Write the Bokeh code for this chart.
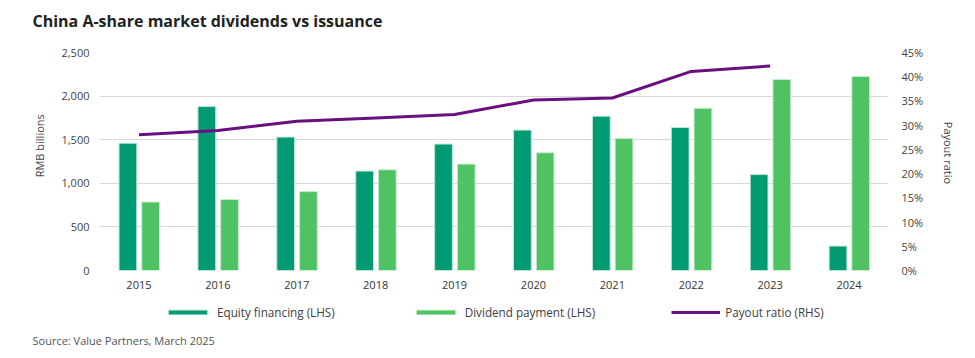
from bokeh.plotting import figure
from bokeh.models import (FactorRange, Range1d, LinearAxis, Legend, LegendItem,
                          NumeralTickFormatter, FixedTicker, ColumnDataSource, Label)
from bokeh.transform import dodge
from bokeh.embed import file_html
from bokeh.resources import INLINE

# ---- data ----
years = ["2015", "2016", "2017", "2018", "2019", "2020", "2021", "2022", "2023", "2024"]
equity_financing = [1460, 1880, 1530, 1140, 1450, 1610, 1770, 1640, 1100, 280]
dividend_payment = [785, 815, 905, 1155, 1220, 1350, 1515, 1860, 2190, 2225]
payout_years = ["2015", "2016", "2017", "2018", "2019", "2020", "2021", "2022", "2023"]
payout_ratio = [0.280, 0.289, 0.308, 0.315, 0.322, 0.352, 0.356, 0.411, 0.422]
left_ticks = [0, 500, 1000, 1500, 2000, 2500]
right_ticks = [0, 0.05, 0.10, 0.15, 0.20, 0.25, 0.30, 0.35, 0.40, 0.45]

FONT = "Open Sans"
C_EQ = "#009B72"
C_DIV = "#4FC364"
C_LINE = "#6A0F80"
EQ_EDGE = "#bfe6d6"
DIV_EDGE = "#c8eccf"
NB = "\u00a0"

bars = ColumnDataSource(dict(year=years, eq=equity_financing, dv=dividend_payment))
line = ColumnDataSource(dict(year=payout_years, pr=payout_ratio))


def blank(height):
    f = figure(width=959, height=height, x_range=FactorRange(factors=years),
               y_range=Range1d(0, 1), output_backend="svg", toolbar_location=None,
               x_axis_location=None, y_axis_location=None, min_border_left=0,
               min_border_right=0, min_border_top=0, min_border_bottom=0)
    f.grid.visible = False
    f.outline_line_color = None
    return f


# ---- header: title ----
h = blank(40)
h.add_layout(Label(x=32, y=19.3, x_units="screen", y_units="screen",
                   text="China A-share market dividends vs issuance", text_font=FONT,
                   text_font_size="16px", text_font_style="bold", text_color="#222222",
                   text_baseline="alphabetic"))

# ---- main chart ----
p = figure(width=959, height=260, x_range=FactorRange(factors=years, range_padding=0),
           y_range=Range1d(0, 2500), output_backend="svg", toolbar_location=None,
           min_border_left=99, min_border_right=66, min_border_top=12, min_border_bottom=30)
p.outline_line_color = None
p.extra_y_ranges = {"pct": Range1d(0, 0.45)}

p.vbar(x=dodge("year", -0.14, range=p.x_range), top="eq", width=0.225, source=bars,
       fill_color=C_EQ, line_color=EQ_EDGE, line_width=1)
p.vbar(x=dodge("year", 0.148, range=p.x_range), top="dv", width=0.225, source=bars,
       fill_color=C_DIV, line_color=DIV_EDGE, line_width=1)
p.line(x="year", y="pr", source=line, y_range_name="pct", line_color=C_LINE, line_width=3)

p.xgrid.grid_line_color = None
p.ygrid.grid_line_color = "#d9d9d9"
p.ygrid.ticker = FixedTicker(ticks=left_ticks)

ya = p.yaxis[0]
ya.ticker = FixedTicker(ticks=left_ticks)
ya.formatter = NumeralTickFormatter(format="0,0")
ya.axis_label = NB * 11 + "RMB billions"

xa = p.xaxis[0]

ra = LinearAxis(y_range_name="pct", ticker=FixedTicker(ticks=right_ticks),
                formatter=NumeralTickFormatter(format="0%"),
                axis_label="Payout ratio" + NB * 6)
p.add_layout(ra, "right")

for ax in (ya, xa, ra):
    ax.axis_line_color = None
    ax.major_tick_line_color = None
    ax.minor_tick_line_color = None
    ax.major_tick_out = 0
    ax.major_tick_in = 0
    ax.minor_tick_out = 0
    ax.minor_tick_in = 0
    ax.major_label_text_font = FONT
    ax.major_label_text_font_size = "11px"
    ax.major_label_text_color = "#444444"
    ax.axis_label_text_font = FONT
    ax.axis_label_text_font_size = "11px"
    ax.axis_label_text_font_style = "normal"
    ax.axis_label_text_color = "#444444"
ya.major_label_standoff = 10
ya.axis_label_standoff = 11
ra.major_label_standoff = 13
ra.axis_label_standoff = 15
xa.major_label_standoff = 10
xa.major_label_text_color = "#333333"

# ---- footer: legend + source (legend proxies are hidden renderers) ----
q = blank(50)
k_eq = q.vbar(x="year", top="eq", width=0.225, source=bars, fill_color=C_EQ,
              line_color=EQ_EDGE, visible=False)
k_dv = q.vbar(x="year", top="dv", width=0.225, source=bars, fill_color=C_DIV,
              line_color=DIV_EDGE, visible=False)
k_ln = q.line(x="year", y="pr", source=line, line_color=C_LINE, line_width=3, visible=False)

legend = Legend(items=[LegendItem(label="Equity financing (LHS)", renderers=[k_eq]),
                       LegendItem(label="Dividend payment (LHS)", renderers=[k_dv]),
                       LegendItem(label="Payout ratio (RHS)", renderers=[k_ln])],
                location=(163, 30), orientation="horizontal", border_line_color=None,
                background_fill_alpha=0, glyph_width=49, glyph_height=6, label_standoff=5,
                spacing=76, padding=0, margin=0, inactive_fill_alpha=0,
                label_text_font=FONT, label_text_font_size="11.7px", label_text_color="#404040")
q.add_layout(legend, "center")

q.add_layout(Label(x=32, y=10.5, x_units="screen", y_units="screen",
                   text="Source: Value Partners, March 2025", text_font=FONT,
                   text_font_size="11px", text_color="#555555", text_baseline="middle"))

open("out.html", "w").write(file_html([h, p, q], INLINE))
